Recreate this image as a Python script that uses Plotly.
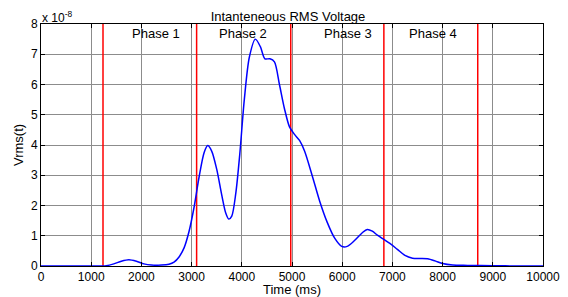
import plotly.graph_objects as go

time_ms = [0, 500, 1000, 1300, 1450, 1600, 1750, 1900, 2050, 2200, 2400, 2550, 2650, 2750, 2850, 2950,
           3050, 3150, 3250, 3320, 3400, 3500, 3600, 3680, 3740, 3800, 3880, 3960, 4050, 4150, 4270,
           4370, 4460, 4560, 4650, 4750, 4850, 4950, 5050, 5150, 5250, 5400, 5550, 5700, 5850, 5990,
           6100, 6250, 6400, 6500, 6600, 6700, 6830, 6950, 7100, 7250, 7400, 7550, 7700, 7850, 8000,
           8200, 8500, 9000, 9500, 10000]
vrms_e8 = [0, 0, 0, 0.01, 0.07, 0.16, 0.21, 0.16, 0.07, 0.03, 0.03, 0.06, 0.13, 0.3, 0.6, 1.15,
           1.95, 2.95, 3.75, 3.98, 3.8, 3.2, 2.35, 1.75, 1.55, 1.65, 2.4, 3.7, 5.5, 6.9, 7.5,
           7.25, 6.85, 6.85, 6.75, 6.0, 5.2, 4.6, 4.35, 4.15, 3.8, 3.0, 2.15, 1.45, 0.92, 0.65,
           0.65, 0.85, 1.1, 1.21, 1.15, 1.02, 0.88, 0.75, 0.55, 0.35, 0.26, 0.25, 0.24, 0.17, 0.08,
           0.03, 0.02, 0.01, 0, 0]

phase_bounds = [1235, 3100, 4975, 6830, 8700]
phase_labels = ["Phase 1", "Phase 2", "Phase 3", "Phase 4"]
phase_label_x = [2300, 4020, 6110, 7810]
x_ticks = [0, 1000, 2000, 3000, 4000, 5000, 6000, 7000, 8000, 9000, 10000]
y_ticks = [0, 1, 2, 3, 4, 5, 6, 7, 8]

font = "Liberation Sans, Arial, sans-serif"

fig = go.Figure()
for xb in phase_bounds:
    fig.add_trace(go.Scatter(x=[xb, xb], y=[0, 8], mode="lines",
                             line=dict(color="#ff0000", width=1.5), showlegend=False, hoverinfo="skip"))
fig.add_trace(go.Scatter(x=time_ms, y=vrms_e8, mode="lines", line=dict(color="#0000ff", width=1.5, shape="spline", smoothing=0.8),
                         showlegend=False))

for lab, lx in zip(phase_labels, phase_label_x):
    fig.add_annotation(x=lx, y=7.67, text=lab, showarrow=False, xref="x", yref="y",
                       font=dict(family=font, size=13, color="black"))

fig.add_annotation(x=0, y=1, xref="paper", yref="paper", xanchor="left", yanchor="bottom",
                   text="x 10<sup>-8</sup>", showarrow=False, xshift=-1, yshift=-3,
                   font=dict(family=font, size=12, color="black"))

# page body adds an 8px offset, so the figure is 560x289 placed at (8, 8)
fig.update_layout(
    width=560, height=289,
    margin=dict(l=33, r=25, t=16, b=31, autoexpand=False),
    paper_bgcolor="white", plot_bgcolor="white",
    title=dict(text="Intanteneous RMS Voltage", x=0.5, xanchor="center", y=0.972, yanchor="middle",
               font=dict(family=font, size=13, color="black"), automargin=False),
    font=dict(family=font, size=12, color="black"),
)
fig.update_xaxes(range=[0, 10000], tickvals=x_ticks, ticktext=[str(v) for v in x_ticks],
                 showgrid=True, gridcolor="#8c8c8c", gridwidth=1, automargin=False,
                 showline=True, linecolor="black", linewidth=1, mirror="allticks",
                 ticks="inside", ticklen=4, tickcolor="black", zeroline=False,
                 title=dict(text="Time (ms)", standoff=0, font=dict(family=font, size=13)),
                 tickfont=dict(family=font, size=12))
fig.update_yaxes(range=[0, 8], tickvals=y_ticks, ticktext=[str(v) for v in y_ticks],
                 showgrid=True, gridcolor="#8c8c8c", gridwidth=1, automargin=False,
                 showline=True, linecolor="black", linewidth=1, mirror="allticks",
                 ticks="inside", ticklen=4, tickcolor="black", zeroline=False,
                 title=dict(text="Vrms(t)", standoff=4, font=dict(family=font, size=13)),
                 tickfont=dict(family=font, size=12))

fig.write_html("out.html")
